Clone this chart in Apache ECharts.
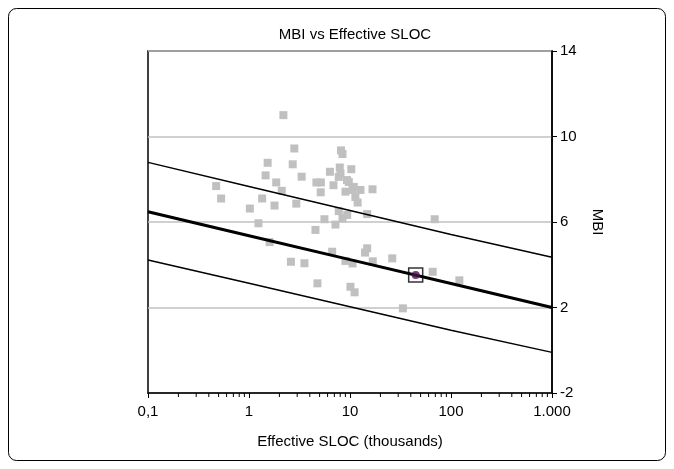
<!DOCTYPE html>
<html>
<head>
<meta charset="utf-8">
<script src="https://cdn.jsdelivr.net/npm/echarts@6/dist/echarts.min.js"></script>
<style>html,body{margin:0;padding:0;background:#fff}#c{width:674px;height:469px}</style>
</head>
<body>
<div id="c"></div>
<script>
// Observed data: Effective SLOC (thousands) vs MBI
const slocValues = [2.19, 2.81, 8.14, 8.43, 1.53, 2.71, 1.46, 3.32, 1.86, 2.11,
  0.473, 0.53, 1.35, 1.79, 2.94, 1.02, 1.24, 1.60, 2.60, 3.54,
  7.92, 10.3, 6.33, 8.05, 7.74, 9.34, 4.65, 5.15, 6.86, 9.73,
  10.9, 9.02, 10.6, 12.7, 16.7, 5.13, 11.3, 11.9, 7.74, 9.38,
  8.43, 14.8, 5.58, 7.18, 4.55, 69.0, 6.66, 14.8, 14.1, 9.02,
  10.6, 16.8, 26.2, 65.9, 121, 4.76, 10.1, 11.1, 33.4];
const mbiValues = [11.0, 9.44, 9.35, 9.18, 8.77, 8.70, 8.18, 8.12, 7.85, 7.46,
  7.68, 7.10, 7.10, 6.77, 6.86, 6.63, 5.94, 5.06, 4.14, 4.07,
  8.55, 8.47, 8.35, 8.27, 8.11, 7.96, 7.85, 7.85, 7.72, 7.87,
  7.64, 7.42, 7.50, 7.50, 7.53, 7.39, 7.17, 6.91, 6.51, 6.33,
  6.17, 6.37, 6.13, 5.88, 5.63, 6.13, 4.61, 4.77, 4.57, 4.18,
  4.06, 4.16, 4.30, 3.67, 3.27, 3.13, 2.97, 2.71, 1.96];
// Highlighted project
const highlightSloc = [44.7];
const highlightMbi = [3.52];
// Regression fit and prediction bounds
const fitSloc = [0.1, 1, 10, 100, 1000];
const fitMbi = [6.48, 5.36, 4.24, 3.12, 2.0];
const upperMbi = [8.79, 7.66, 6.54, 5.42, 4.35];
const lowerMbi = [4.22, 3.13, 2.04, 0.94, -0.1];
// Axis ticks
const yTicks = [-2, 2, 6, 10, 14];
const xDecades = [0.1, 1, 10, 100];
const minorMultipliers = [2, 3, 4, 5, 6, 7, 8, 9];
const xLabelMap = {0.1: '0,1', 1: '1', 10: '10', 100: '100', 1000: '1.000'};

const FONT = 'Liberation Sans, Arial, sans-serif';
const FS = 15;
const zip = (a, b) => a.map((v, i) => [v, b[i]]);
const minorTicks = [];
xDecades.forEach(d => minorMultipliers.forEach(m => minorTicks.push([+(d * m).toPrecision(3), -2])));

const chart = echarts.init(document.getElementById('c'), null, {renderer: 'canvas'});
chart.setOption({
  animation: false,
  backgroundColor: '#fff',
  textStyle: {fontFamily: FONT},
  title: {
    text: 'MBI vs Effective SLOC', left: 350, top: 22, textAlign: 'center',
    textStyle: {fontFamily: FONT, fontSize: FS, fontWeight: 'normal', color: '#000'}
  },
  graphic: [{
    type: 'rect', shape: {x: 8.5, y: 8.5, width: 657, height: 452, r: 8},
    style: {fill: 'none', stroke: '#000', lineWidth: 1}, z: -1, silent: true
  }],
  grid: {left: 148, right: 122, top: 51, bottom: 76, show: true, borderColor: '#000', borderWidth: 1.5, backgroundColor: 'transparent'},
  xAxis: {
    type: 'log', logBase: 10, min: 0.1, max: 1000,
    name: 'Effective SLOC (thousands)', nameLocation: 'middle', nameGap: 41,
    nameTextStyle: {fontFamily: FONT, fontSize: FS, color: '#000'},
    axisLine: {onZero: false, lineStyle: {color: '#000', width: 1.5}},
    axisTick: {show: true, length: 5, lineStyle: {color: '#000', width: 1}},
    axisLabel: {fontFamily: FONT, fontSize: FS, color: '#000', margin: 11,
      formatter: v => xLabelMap[+v.toPrecision(3)] !== undefined ? xLabelMap[+v.toPrecision(3)] : ''},
    splitLine: {show: false}
  },
  yAxis: {
    type: 'value', position: 'right', min: -2, max: 14, interval: 4,
    name: 'MBI', nameLocation: 'middle', nameGap: 38, nameRotate: -90,
    nameTextStyle: {fontFamily: FONT, fontSize: FS, color: '#000'},
    axisLine: {show: true, onZero: false, lineStyle: {color: '#000', width: 1.5}},
    axisTick: {show: true, length: 5, lineStyle: {color: '#000', width: 1}, customValues: yTicks},
    axisLabel: {fontFamily: FONT, fontSize: FS, color: '#000', margin: 8, customValues: yTicks},
    splitLine: {show: true, lineStyle: {color: '#c0c0c0', width: 1.5}}
  },
  series: [
    {
      type: 'scatter', data: zip(slocValues, mbiValues), symbol: 'rect', symbolSize: 8,
      itemStyle: {color: '#c0c0c0', opacity: 1}, silent: true, z: 2
    },
    {
      type: 'line', data: zip(fitSloc, upperMbi), showSymbol: false, symbol: 'none',
      lineStyle: {color: '#000', width: 1.5}, silent: true, z: 3
    },
    {
      type: 'line', data: zip(fitSloc, lowerMbi), showSymbol: false, symbol: 'none',
      lineStyle: {color: '#000', width: 1.5}, silent: true, z: 3
    },
    {
      type: 'line', data: zip(fitSloc, fitMbi), showSymbol: false, symbol: 'none',
      lineStyle: {color: '#000', width: 3}, silent: true, z: 4
    },
    {
      type: 'scatter', data: zip(highlightSloc, highlightMbi), symbol: 'rect', symbolSize: 14,
      itemStyle: {color: 'rgba(255,255,255,0)', borderColor: '#000', borderWidth: 1.5}, silent: true, z: 5
    },
    {
      type: 'scatter', data: zip(highlightSloc, highlightMbi), symbol: 'circle', symbolSize: 8,
      itemStyle: {color: '#4a0f4d'}, silent: true, z: 6
    },
    {
      type: 'custom', data: minorTicks, clip: false, silent: true, z: 7,
      renderItem: (params, api) => {
        const p = api.coord([api.value(0), api.value(1)]);
        return {type: 'line', shape: {x1: p[0], y1: p[1], x2: p[0], y2: p[1] + 4},
          style: {stroke: '#000', lineWidth: 1}};
      }
    }
  ]
});
</script>
</body>
</html>
